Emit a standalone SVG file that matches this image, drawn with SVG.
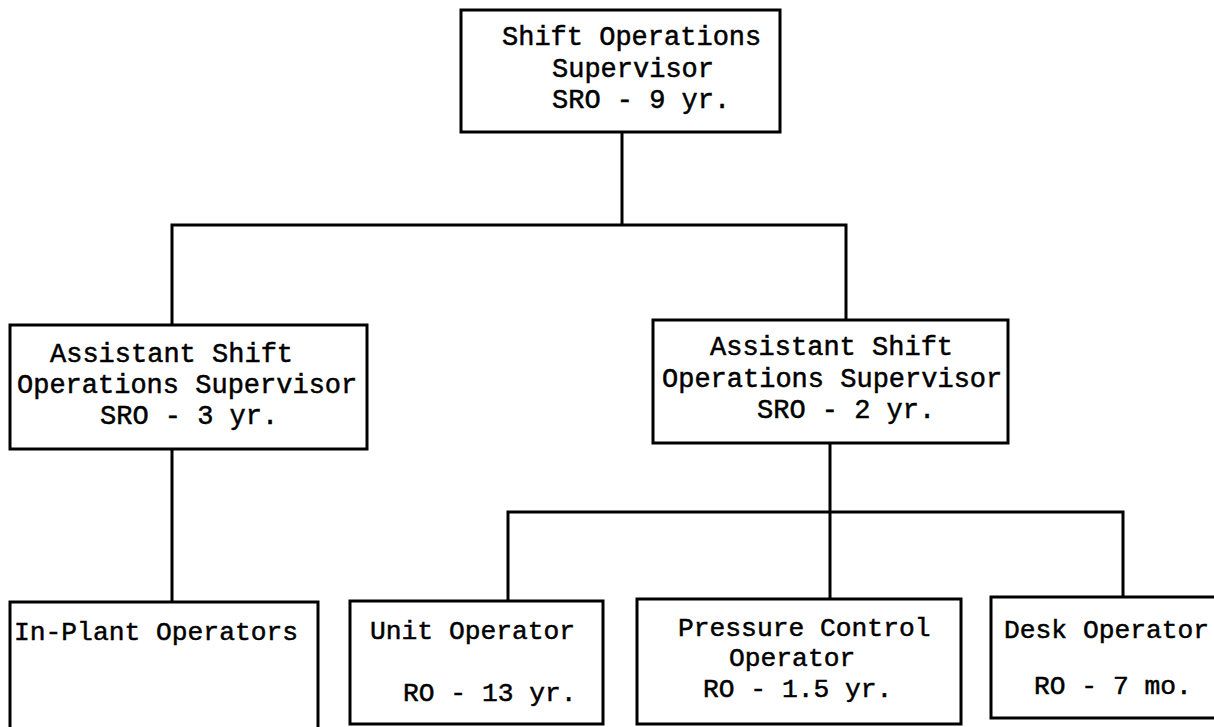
<svg xmlns="http://www.w3.org/2000/svg" width="1214" height="727" viewBox="0 0 1214 727">
<style>
.box{fill:#fff;stroke:#000;stroke-width:3}
.ln{fill:none;stroke:#000;stroke-width:3}
text{font-family:"Liberation Mono","DejaVu Sans Mono",monospace;font-size:27px;fill:#000;stroke:#000;stroke-width:0.5}
.sm{font-size:26.3px}
</style>
<rect width="1214" height="727" fill="#fff"/>
<g id="connectors">
<path class="ln" d="M622 132 V225 M172 325 V225 H846 V320"/>
<path class="ln" d="M172 449 V602"/>
<path class="ln" d="M830 443 V599 M508 601 V512 H1123 V597"/>
</g>
<g id="sos">
<rect class="box" x="461" y="10" width="319" height="122"/>
<text x="502" y="45">Shift Operations</text>
<text x="552" y="77">Supervisor</text>
<text x="552" y="108">SRO - 9 yr.</text>
</g>
<g id="asos1">
<rect class="box" x="10" y="325" width="357" height="124"/>
<text x="50" y="362">Assistant Shift</text>
<text x="17" y="393">Operations Supervisor</text>
<text x="100" y="424">SRO - 3 yr.</text>
</g>
<g id="asos2">
<rect class="box" x="653" y="320" width="355" height="123"/>
<text x="710" y="355">Assistant Shift</text>
<text x="662" y="387">Operations Supervisor</text>
<text x="757" y="418">SRO - 2 yr.</text>
</g>
<g id="inplant">
<rect class="box" x="10" y="602" width="308" height="130"/>
<text class="sm" x="14" y="640">In-Plant Operators</text>
</g>
<g id="unit">
<rect class="box" x="350" y="601" width="253" height="123"/>
<text class="sm" x="370" y="639">Unit Operator</text>
<text class="sm" x="403" y="701">RO - 13 yr.</text>
</g>
<g id="pressure">
<rect class="box" x="637" y="599" width="324" height="125"/>
<text class="sm" x="678" y="636">Pressure Control</text>
<text class="sm" x="729" y="666">Operator</text>
<text class="sm" x="703" y="697">RO - 1.5 yr.</text>
</g>
<g id="desk">
<rect class="box" x="991" y="597" width="240" height="121"/>
<text class="sm" x="1004" y="638">Desk Operator</text>
<text class="sm" x="1034" y="694">RO - 7 mo.</text>
</g>
</svg>
